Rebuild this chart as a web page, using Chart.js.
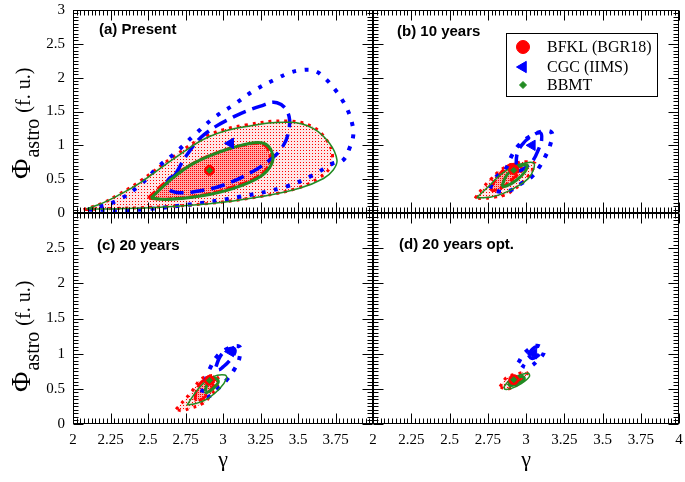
<!DOCTYPE html>
<html>
<head>
<meta charset="utf-8">
<script src="https://cdn.jsdelivr.net/npm/chart.js@4/dist/chart.umd.min.js"></script>
<style>
  html, body { margin: 0; padding: 0; background: #fff; }
  #wrap { position: relative; width: 685px; height: 482px; }
  #wrap canvas { position: absolute; left: 0; top: 0; }
</style>
</head>
<body>
<div id="wrap">
  <canvas id="pa" width="685" height="482"></canvas>
  <canvas id="pb" width="685" height="482"></canvas>
  <canvas id="pc" width="685" height="482"></canvas>
  <canvas id="pd" width="685" height="482"></canvas>
</div>
<script>
// axis ranges
const gammaRange = [2, 4];
const phiRange = [0, 3];

// (a) Present : contours [gamma, phi]
const aBfkl2 = [[2.07,0.05],[2.2,0.15],[2.3,0.27],[2.44,0.46],[2.68,0.85],[2.9,1.15],[3.15,1.3],[3.44,1.36],[3.6,1.27],[3.69,1.08],[3.73,0.85],[3.71,0.66],[3.64,0.52],[3.5,0.37],[3.25,0.245],[2.9,0.14],[2.58,0.09],[2.25,0.065],[2.07,0.05]];
const aBfkl1 = [[2.5,0.22],[2.63,0.48],[2.79,0.72],[2.97,0.9],[3.15,1.01],[3.26,1.02],[3.31,0.9],[3.31,0.73],[3.24,0.55],[3.06,0.38],[2.85,0.26],[2.62,0.205],[2.5,0.22]];
const aBbmt2 = [[2.09,0.06],[2.2,0.15],[2.3,0.26],[2.45,0.45],[2.69,0.83],[2.91,1.13],[3.16,1.28],[3.45,1.34],[3.6,1.25],[3.71,1.03],[3.76,0.78],[3.735,0.635],[3.67,0.51],[3.51,0.365],[3.25,0.24],[2.91,0.135],[2.58,0.085],[2.25,0.06],[2.09,0.06]];
const aBbmt1 = [[2.52,0.22],[2.65,0.49],[2.8,0.73],[2.98,0.905],[3.16,1.02],[3.27,1.03],[3.325,0.905],[3.325,0.73],[3.25,0.54],[3.07,0.365],[2.85,0.25],[2.62,0.2],[2.52,0.22]];
const aCgc2 = [[2.1,0.05],[2.4,0.045],[2.76,0.12],[3.11,0.24],[3.42,0.39],[3.6,0.56],[3.73,0.73],[3.8,0.78],[3.847,0.98],[3.869,1.163],[3.858,1.35],[3.829,1.53],[3.791,1.685],[3.74,1.843],[3.685,1.98],[3.613,2.1],[3.529,2.113],[3.447,2.074],[3.362,1.99],[3.213,1.818],[3.069,1.596],[2.935,1.4],[2.802,1.138],[2.691,0.906],[2.569,0.684],[2.447,0.414],[2.302,0.192],[2.136,0.069],[2.1,0.05]];
const aCgc1 = [[2.68,0.56],[2.76,0.86],[2.87,1.15],[3.07,1.42],[3.25,1.58],[3.36,1.63],[3.435,1.47],[3.435,1.18],[3.39,0.955],[3.31,0.78],[3.18,0.59],[3.0,0.41],[2.85,0.33],[2.71,0.3],[2.63,0.365],[2.635,0.49],[2.68,0.56]];
const aFitBfkl = [2.91, 0.63];
const aFitCgc = [3.05, 1.03];
const aFitBbmt = [2.91, 0.63];

// (b) 10 years
const bBfkl2 = [[2.667,0.217],[2.721,0.38],[2.776,0.512],[2.82,0.61],[2.863,0.675],[2.928,0.734],[3.005,0.758],[3.059,0.734],[3.048,0.66],[3.015,0.547],[2.972,0.439],[2.917,0.34],[2.863,0.266],[2.786,0.232],[2.721,0.217],[2.667,0.217]];
const bBfkl1 = [[2.765,0.365],[2.808,0.512],[2.852,0.635],[2.895,0.709],[2.95,0.709],[2.972,0.635],[2.917,0.512],[2.852,0.389],[2.786,0.33],[2.765,0.365]];
const bBbmt2 = [[2.678,0.226],[2.765,0.414],[2.83,0.56],[2.917,0.685],[3.005,0.744],[3.052,0.734],[3.048,0.635],[3.016,0.512],[2.94,0.389],[2.852,0.29],[2.765,0.232],[2.678,0.226]];
const bBbmt1 = [[2.841,0.389],[2.874,0.56],[2.928,0.66],[3.005,0.709],[2.993,0.61],[2.939,0.488],[2.874,0.4],[2.841,0.389]];
const bCgc2 = [[2.765,0.365],[2.797,0.512],[2.869,0.66],[2.906,0.842],[2.95,0.995],[3.015,1.118],[3.092,1.197],[3.168,1.187],[3.157,0.995],[3.131,0.857],[3.092,0.695],[3.037,0.536],[2.972,0.439],[2.895,0.33],[2.83,0.315],[2.765,0.365]];
const bCgc1 = [[2.935,0.66],[2.943,0.882],[2.982,1.03],[3.026,1.118],[3.092,1.187],[3.102,1.079],[3.08,0.931],[3.048,0.783],[3.005,0.685],[2.96,0.625],[2.935,0.66]];
const bFitBfkl = [2.92, 0.64];
const bFitCgc = [3.04, 1.0];
const bFitBbmt = [2.92, 0.63];

// (c) 20 years
const cBfkl2 = [[2.687,0.209],[2.791,0.46],[2.847,0.626],[2.902,0.682],[2.958,0.673],[2.969,0.578],[2.913,0.389],[2.858,0.284],[2.78,0.223],[2.724,0.19],[2.687,0.209]];
const cBfkl1 = [[2.813,0.341],[2.824,0.483],[2.858,0.6],[2.913,0.65],[2.947,0.626],[2.924,0.507],[2.869,0.365],[2.824,0.327],[2.813,0.341]];
const cBbmt2 = [[2.76,0.27],[2.847,0.53],[2.935,0.673],[3.013,0.697],[3.024,0.65],[2.98,0.507],[2.902,0.365],[2.824,0.294],[2.76,0.27]];
const cBbmt1 = [[2.88,0.46],[2.902,0.6],[2.947,0.65],[2.969,0.6],[2.935,0.507],[2.891,0.445],[2.88,0.46]];
const cCgc2 = [[2.858,0.445],[2.891,0.673],[2.913,0.792],[2.958,0.957],[3.024,1.066],[3.109,1.099],[3.109,0.934],[3.08,0.792],[3.024,0.626],[2.969,0.507],[2.902,0.389],[2.858,0.445]];
const cCgc1 = [[2.953,0.815],[2.98,0.957],[3.024,1.052],[3.069,1.076],[3.08,1.028],[3.047,0.91],[3.002,0.815],[2.969,0.768],[2.953,0.815]];
const cFitBfkl = [2.91, 0.62];
const cFitCgc = [3.05, 1.03];
const cFitBbmt = [2.91, 0.62];

// (d) 20 years opt.
const dBfkl2 = [[2.83,0.531],[2.874,0.663],[2.939,0.711],[3.005,0.73],[2.993,0.65],[2.939,0.555],[2.874,0.493],[2.83,0.531]];
const dBfkl1 = [[2.885,0.587],[2.922,0.65],[2.961,0.663],[2.957,0.6],[2.913,0.555],[2.885,0.587]];
const dBbmt2 = [[2.856,0.531],[2.895,0.626],[2.961,0.697],[3.015,0.72],[3.022,0.673],[2.972,0.578],[2.906,0.507],[2.863,0.493],[2.856,0.531]];
const dBbmt1 = [[2.885,0.578],[2.928,0.65],[2.982,0.673],[2.987,0.626],[2.939,0.569],[2.895,0.545],[2.885,0.578]];
const dCgc2 = [[2.95,0.872],[2.993,1.014],[3.069,1.113],[3.118,1.042],[3.08,0.91],[3.008,0.806],[2.95,0.872]];
const dCgc1 = [[3.015,0.981],[3.037,1.052],[3.069,1.099],[3.092,1.028],[3.069,0.957],[3.037,0.934],[3.015,0.981]];
const dFitBfkl = [2.92, 0.63];
const dFitCgc = [3.05, 1.0];
const dFitBbmt = [2.92, 0.63];

const RED = '#ff0000', BLUE = '#0000ff', GREEN = '#228b22';
const SERIF = '"Liberation Serif", "Times New Roman", serif';
const SANS = '"Liberation Sans", Arial, sans-serif';
const TICK_FONT = { family: SERIF, size: 15 };

const fmt = v => String(Math.round(v * 100) / 100);

function makePattern(ctx, bg, size, dots) {
  const c = document.createElement('canvas');
  c.width = c.height = size;
  const g = c.getContext('2d');
  g.fillStyle = bg;
  g.fillRect(0, 0, size, size);
  g.fillStyle = RED;
  dots.forEach(([x, y]) => g.fillRect(x, y, 1, 1));
  return ctx.createPattern(c, 'repeat');
}

// frame with inward major/minor ticks on all four sides
const frameTicks = {
  id: 'frameTicks',
  afterDatasetsDraw(chart) {
    const { ctx, chartArea: a, scales: { x, y } } = chart;
    const L = Math.round(a.left) + 0.5, R = Math.round(a.right) - 0.5;
    const T = Math.round(a.top) + 0.5, B = Math.round(a.bottom) - 0.5;
    ctx.save();
    ctx.strokeStyle = '#000';
    ctx.lineWidth = 1;
    ctx.strokeRect(L, T, R - L, B - T);
    ctx.beginPath();
    for (let i = 0; i <= 80; i++) {
      const px = Math.round(x.getPixelForValue(gammaRange[0] + i * 0.025)) + 0.5;
      const len = i % 10 === 0 ? 10 : 5;
      ctx.moveTo(px, B); ctx.lineTo(px, B - len);
      ctx.moveTo(px, T); ctx.lineTo(px, T + len);
    }
    for (let i = 0; i <= 60; i++) {
      const py = Math.round(y.getPixelForValue(phiRange[0] + i * 0.05)) + 0.5;
      const len = i % 10 === 0 ? 10 : 5;
      ctx.moveTo(L, py); ctx.lineTo(L + len, py);
      ctx.moveTo(R, py); ctx.lineTo(R - len, py);
    }
    ctx.stroke();
    ctx.restore();
  }
};

// panel label, axis titles and legend box
const decorations = {
  id: 'decorations',
  afterDraw(chart, args, o) {
    const ctx = chart.ctx, a = chart.chartArea;
    ctx.save();
    ctx.fillStyle = '#000';
    ctx.textAlign = 'left';
    ctx.textBaseline = 'alphabetic';
    ctx.font = 'bold 15px ' + SANS;
    ctx.fillText(o.label, o.labelPos[0], o.labelPos[1]);

    if (o.gamma) {
      ctx.font = '22px ' + SERIF;
      ctx.textAlign = 'center';
      ctx.fillText('γ', (a.left + a.right) / 2, 466);
    }
    if (o.phiY) {
      ctx.save();
      ctx.translate(30, o.phiY);
      ctx.rotate(-Math.PI / 2);
      ctx.textAlign = 'left';
      ctx.font = '28px ' + SERIF;
      ctx.fillText('Φ', 0, 0);
      let x = ctx.measureText('Φ').width + 1;
      ctx.font = '20px ' + SERIF;
      ctx.fillText('astro', x, 9);
      x += ctx.measureText('astro').width + 6;
      ctx.fillText('(f. u.)', x, 0);
      ctx.restore();
    }
    if (o.legend) {
      const bx = a.left + 133, by = a.top + 23;
      ctx.lineWidth = 1;
      ctx.strokeStyle = '#000';
      ctx.fillStyle = '#fff';
      ctx.fillRect(bx, by, 151, 63);
      ctx.strokeRect(bx + 0.5, by + 0.5, 151, 63);
      const items = chart.data.datasets.filter(d => d.label);
      const rowY = [14, 34, 52];
      items.forEach((d, i) => {
        ctx.fillStyle = d.pointBackgroundColor;
        ctx.strokeStyle = d.pointBorderColor;
        Chart.helpers.drawPoint(ctx, {
          pointStyle: d.pointStyle, radius: d.legendRadius,
          rotation: d.pointRotation || 0, borderWidth: 1
        }, bx + 17, by + rowY[i]);
        ctx.fillStyle = '#000';
        ctx.font = '16px ' + SERIF;
        ctx.textBaseline = 'middle';
        ctx.fillText(d.label, bx + 41, by + rowY[i] + 1);
      });
    }
    ctx.restore();
  }
};

function panel(id, d, o) {
  const ctx = document.getElementById(id).getContext('2d');
  const light = makePattern(ctx, '#ffe6e6', 3, [[0, 0]]);
  const dense = makePattern(ctx, '#ffa8a8', 2, [[0, 0]]);
  const line = (pts, style) => Object.assign({
    data: pts.map(([x, y]) => ({ x, y })),
    showLine: true, pointRadius: 0, pointHoverRadius: 0,
    tension: 0.4, fill: false, borderCapStyle: 'butt'
  }, style);
  const mark = (pt, style) => Object.assign({
    data: [{ x: pt[0], y: pt[1] }], showLine: false, pointBorderWidth: 1
  }, style);

  return new Chart(ctx, {
    type: 'scatter',
    data: {
      datasets: [
        line(d.bfkl2, { fill: 'shape', backgroundColor: light, borderColor: RED, borderWidth: 3, borderDash: [3, 5], order: 20 }),
        line(d.bfkl1, { fill: 'shape', backgroundColor: dense, borderColor: RED, borderWidth: 3, borderDash: [10, 3], order: 19 }),
        line(d.cgc2, { borderColor: BLUE, borderWidth: 4, borderDash: [4, 8.5], order: 17 }),
        line(d.cgc1, { borderColor: BLUE, borderWidth: 3.5, borderDash: [14, 7], order: 16 }),
        line(d.bbmt2, { borderColor: GREEN, borderWidth: 1.5, order: 15 }),
        line(d.bbmt1, { borderColor: GREEN, borderWidth: 3, order: 14 }),
        mark(d.fitBfkl, { label: 'BFKL (BGR18)', pointStyle: 'circle', pointRadius: 5, legendRadius: 6.5,
          pointBackgroundColor: RED, pointBorderColor: RED, order: 3 }),
        mark(d.fitCgc, { label: 'CGC (IIMS)', pointStyle: 'triangle', pointRotation: -90, pointRadius: 6, legendRadius: 6.5,
          pointBackgroundColor: BLUE, pointBorderColor: BLUE, order: 2 }),
        mark(d.fitBbmt, { label: 'BBMT', pointStyle: 'rectRot', pointRadius: 3, legendRadius: 3.5,
          pointBackgroundColor: GREEN, pointBorderColor: GREEN, order: 1 })
      ]
    },
    options: {
      responsive: false,
      devicePixelRatio: 1,
      animation: false,
      events: [],
      layout: { padding: o.pad, autoPadding: false },
      plugins: {
        legend: { display: false },
        tooltip: { enabled: false },
        decorations: o.deco
      },
      scales: {
        x: {
          type: 'linear', min: gammaRange[0], max: gammaRange[1],
          display: !!o.xCb,
          afterFit: s => { s.height = o.xCb ? 40 : 0; s.paddingLeft = 0; s.paddingRight = 0; },
          grid: { display: false, drawTicks: false },
          border: { display: false },
          ticks: { stepSize: 0.25, padding: 7, maxRotation: 0, autoSkip: false,
                   font: TICK_FONT, color: '#000', callback: o.xCb }
        },
        y: {
          type: 'linear', min: phiRange[0], max: phiRange[1],
          display: !!o.yCb,
          afterFit: s => { s.width = o.yCb ? 40 : 0; s.paddingTop = 0; s.paddingBottom = 0; },
          grid: { display: false, drawTicks: false },
          border: { display: false },
          ticks: { stepSize: 0.5, padding: 8, autoSkip: false,
                   font: TICK_FONT, color: '#000', callback: o.yCb }
        }
      }
    },
    plugins: [frameTicks, decorations]
  });
}

panel('pa', {
  bfkl2: aBfkl2, bfkl1: aBfkl1, bbmt2: aBbmt2, bbmt1: aBbmt1, cgc2: aCgc2, cgc1: aCgc1,
  fitBfkl: aFitBfkl, fitCgc: aFitCgc, fitBbmt: aFitBbmt
}, {
  pad: { left: 33, right: 312, top: 10, bottom: 269 },
  yCb: v => fmt(v),
  deco: { label: '(a) Present', labelPos: [99, 34], phiY: 179 }
});

panel('pb', {
  bfkl2: bBfkl2, bfkl1: bBfkl1, bbmt2: bBbmt2, bbmt1: bBbmt1, cgc2: bCgc2, cgc1: bCgc1,
  fitBfkl: bFitBfkl, fitCgc: bFitCgc, fitBbmt: bFitBbmt
}, {
  pad: { left: 373, right: 6, top: 10, bottom: 269 },
  deco: { label: '(b) 10 years', labelPos: [397, 36], legend: true }
});

panel('pc', {
  bfkl2: cBfkl2, bfkl1: cBfkl1, bbmt2: cBbmt2, bbmt1: cBbmt1, cgc2: cCgc2, cgc1: cCgc1,
  fitBfkl: cFitBfkl, fitCgc: cFitCgc, fitBbmt: cFitBbmt
}, {
  pad: { left: 33, right: 312, top: 213, bottom: 18 },
  xCb: v => (v > 3.99 ? '' : fmt(v)),
  yCb: v => (v > 2.99 ? '' : fmt(v)),
  deco: { label: '(c) 20 years', labelPos: [97, 250], phiY: 392, gamma: true }
});

panel('pd', {
  bfkl2: dBfkl2, bfkl1: dBfkl1, bbmt2: dBbmt2, bbmt1: dBbmt1, cgc2: dCgc2, cgc1: dCgc1,
  fitBfkl: dFitBfkl, fitCgc: dFitCgc, fitBbmt: dFitBbmt
}, {
  pad: { left: 373, right: 6, top: 213, bottom: 18 },
  xCb: v => fmt(v),
  deco: { label: '(d) 20 years opt.', labelPos: [399, 249], gamma: true }
});
</script>
</body>
</html>
